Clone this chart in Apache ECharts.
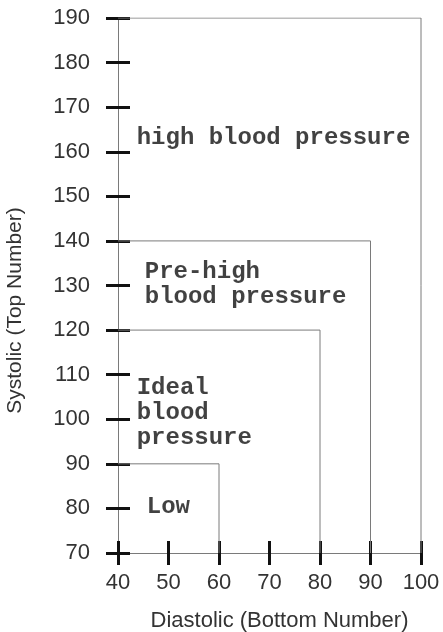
<!DOCTYPE html>
<html>
<head>
<meta charset="utf-8">
<script src="https://cdn.jsdelivr.net/npm/echarts@6/dist/echarts.min.js"></script>
<style>
  html, body { margin: 0; padding: 0; background: #fff; }
  #main { width: 443px; height: 632px; }
</style>
</head>
<body>
<div id="main"></div>
<script>
// axis ranges
var xTicks = [40, 50, 60, 70, 80, 90, 100];
var yTicks = [70, 80, 90, 100, 110, 120, 130, 140, 150, 160, 170, 180, 190];

// zone boundaries (diastolic upper limit, systolic upper limit)
var diastolicLimits = [60, 80, 90, 100];
var systolicLimits = [90, 120, 140, 190];

// zone names and where they are written (data units)
var zoneNames = ['Low', 'Ideal\nblood\npressure', 'Pre-high\nblood pressure', 'high blood pressure'];
var zoneLabelX = [45.6, 43.6, 45.2, 43.6];
var zoneLabelY = [80.3, 101.4, 130.2, 163.1];

var chart = echarts.init(document.getElementById('main'));

var lineColor = '#7a7a7a';
var tickStyle = { color: '#111', width: 3 };

var series = [];
// each zone = top edge from the y axis then down to the x axis
diastolicLimits.forEach(function (d, i) {
  var s = systolicLimits[i];
  series.push({
    type: 'line',
    data: [[xTicks[0], s], [d, s], [d, yTicks[0]]],
    symbol: 'none',
    lineStyle: { color: lineColor, width: 1 },
    silent: true,
    z: 1
  });
});

series.push({
  type: 'scatter',
  symbolSize: 1,
  itemStyle: { color: 'rgba(0,0,0,0)' },
  data: zoneNames.map(function (n, i) { return { value: [zoneLabelX[i], zoneLabelY[i]], name: n }; }),
  label: {
    show: true,
    position: 'right',
    distance: 0,
    formatter: '{b}',
    fontFamily: '"Liberation Mono", "Courier New", monospace',
    fontWeight: 'bold',
    fontSize: 24,
    lineHeight: 25,
    color: '#111',
    align: 'left'
  },
  silent: true,
  z: 5
});

var axisBase = {
  type: 'value',
  interval: 10,
  splitLine: { show: false }
};

var option = {
  backgroundColor: '#fff',
  animation: false,
  grid: { left: 118, right: 22, top: 18, bottom: 79, outerBoundsMode: 'none', containLabel: false },
  xAxis: [
    Object.assign({}, axisBase, {
      min: xTicks[0], max: xTicks[xTicks.length - 1],
      axisLine: { show: true, lineStyle: { color: lineColor, width: 1 } },
      axisTick: { show: true, length: 12, lineStyle: tickStyle },
      axisLabel: { margin: 19, fontSize: 22, color: '#333', fontFamily: 'Arial' },
      name: 'Diastolic (Bottom Number)',
      nameLocation: 'middle',
      nameGap: 57,
      nameTextStyle: { fontSize: 22, color: '#333', fontFamily: 'Arial', padding: [0, 0, 0, 20] }
    }),
    Object.assign({}, axisBase, {
      min: xTicks[0], max: xTicks[xTicks.length - 1],
      position: 'bottom',
      axisLine: { show: false },
      axisTick: { show: true, inside: true, length: 12, lineStyle: tickStyle },
      axisLabel: { show: false }
    })
  ],
  yAxis: [
    Object.assign({}, axisBase, {
      min: yTicks[0], max: yTicks[yTicks.length - 1],
      axisLine: { show: true, lineStyle: { color: lineColor, width: 1 } },
      axisTick: { show: true, length: 12, lineStyle: tickStyle },
      axisLabel: { margin: 28, fontSize: 22, color: '#333', fontFamily: 'Arial' },
      name: 'Systolic (Top Number)',
      nameLocation: 'middle',
      nameGap: 92,
      nameTextStyle: { fontSize: 21, color: '#333', fontFamily: 'Arial', padding: [0, 50, 0, 0] }
    }),
    Object.assign({}, axisBase, {
      min: yTicks[0], max: yTicks[yTicks.length - 1],
      position: 'left',
      axisLine: { show: false },
      axisTick: { show: true, inside: true, length: 12, lineStyle: tickStyle },
      axisLabel: { show: false }
    })
  ],
  series: series
};

chart.setOption(option);
</script>
</body>
</html>
